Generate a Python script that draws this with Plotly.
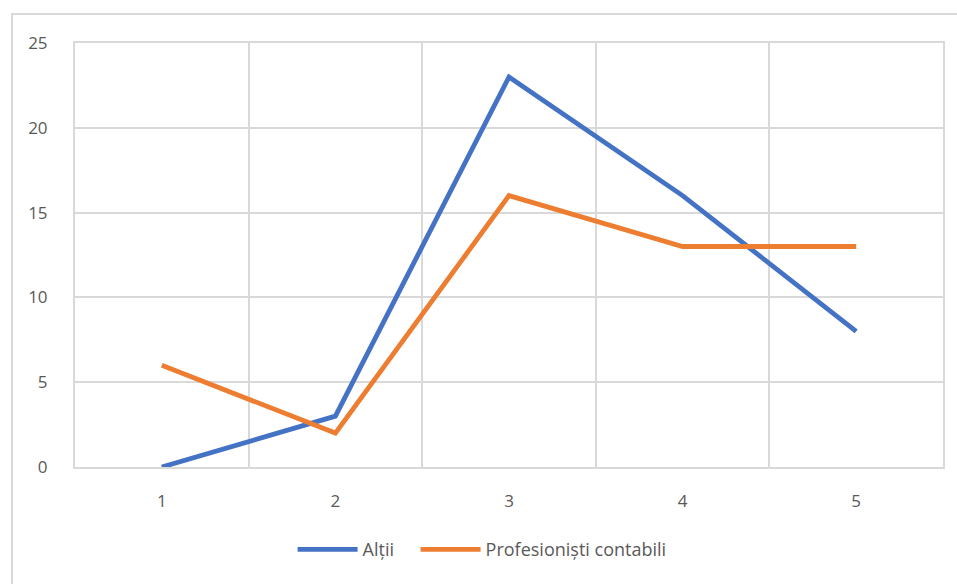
import plotly.graph_objects as go

categories = [1, 2, 3, 4, 5]
altii = [0, 3, 23, 16, 8]
profesionisti = [6, 2, 16, 13, 13]
series_names = ["Alții", "Profesioniști contabili"]

W, H = 957, 584
L, R, T, B = 75, 14, 43, 117
pw, ph = W - L - R, H - T - B

fig = go.Figure()
fig.add_trace(go.Scatter(x=categories, y=altii, mode="lines", name=series_names[0],
                         line=dict(color="#4472C4", width=4.8), legendwidth=48))
fig.add_trace(go.Scatter(x=categories, y=profesionisti, mode="lines", name=series_names[1],
                         line=dict(color="#ED7D31", width=4.8)))

grid = "#d9d9d9"
tick_font = dict(family="Open Sans, Liberation Sans, sans-serif", color="#595959", size=17)
fig.update_layout(
    width=W, height=H,
    margin=dict(l=L, r=R, t=T, b=B),
    paper_bgcolor="white", plot_bgcolor="white",
    font=dict(family="Open Sans, Liberation Sans, sans-serif", color="#595959", size=17),
    showlegend=True,
    legend=dict(orientation="h", x=0.469, xanchor="center", y=-0.195, yanchor="middle",
                font=dict(size=18, color="#595959"), tracegroupgap=0, itemwidth=60),
    xaxis=dict(range=[0.5, 5.5], tickvals=categories, ticktext=[str(c) for c in categories],
               tickfont=tick_font,
               showgrid=False, zeroline=False, showline=True, mirror=True, linecolor=grid,
               linewidth=2, ticks="", ticklabelstandoff=18,
               minor=dict(tickvals=[1.5, 2.5, 3.5, 4.5], showgrid=True, gridcolor=grid, gridwidth=2)),
    yaxis=dict(range=[0, 25], dtick=5, showgrid=True, gridcolor=grid, gridwidth=2,
               tickfont=tick_font,
               zeroline=False, showline=True, mirror=True, linecolor=grid, linewidth=2,
               ticks="", ticklabelstandoff=22),
    shapes=[dict(type="rect", xref="paper", yref="paper",
                 x0=(12 - L) / pw, x1=1 + (R + 20) / pw,
                 y0=-(B + 20) / ph, y1=1 + (T - 14) / ph,
                 line=dict(color=grid, width=2), fillcolor="rgba(0,0,0,0)", layer="below")],
)

fig.write_html("out.html", config={"displayModeBar": False},
               post_script="document.body.style.margin='0';")
